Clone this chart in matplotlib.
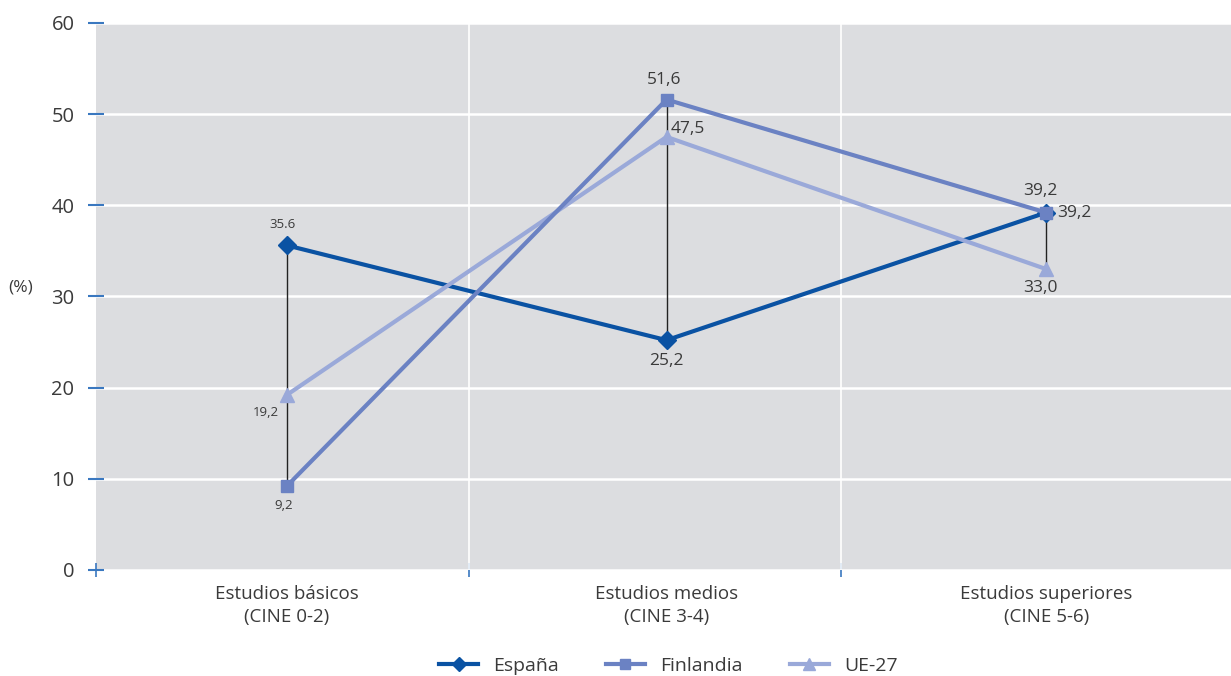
import matplotlib.pyplot as plt

categorias = ['Estudios básicos\n(CINE 0-2)', 'Estudios medios\n(CINE 3-4)', 'Estudios superiores\n(CINE 5-6)']
espana = [35.6, 25.2, 39.2]
finlandia = [9.2, 51.6, 39.2]
ue27 = [19.2, 47.5, 33.0]
etiquetas_espana = ['35.6', '25,2', '39,2']
etiquetas_finlandia = ['9,2', '51,6', '39,2']
etiquetas_ue27 = ['19,2', '47,5', '33,0']

plt.rcParams['font.family'] = ['Open Sans', 'DejaVu Sans']
gris_texto = '#3a3a3a'
azul_ticks = '#3a78c0'

fig = plt.figure(figsize=(12.31, 6.76), dpi=100)
ax = fig.add_axes([0.078, 0.157, 0.922, 0.809])
ax.set_facecolor('#dcdde0')
for s in ax.spines.values():
    s.set_visible(False)

x = list(range(len(categorias)))

# lineas maximo-minimo
for i in x:
    vals = [espana[i], finlandia[i], ue27[i]]
    ax.plot([i, i], [min(vals), max(vals)], color='#222222', lw=1, zorder=3)

ax.plot(x, espana, color='#0a52a3', lw=3, marker='D', ms=9, label='España', zorder=4)
ax.plot(x, ue27, color='#9aa9d9', lw=3, marker='^', ms=10, label='UE-27', zorder=5)
ax.plot(x, finlandia, color='#6b82c3', lw=3, marker='s', ms=9, label='Finlandia', zorder=6)

# etiquetas de datos
ax.annotate(etiquetas_espana[0], (0, espana[0]), xytext=(-3, 10), textcoords='offset points', ha='center', va='bottom', fontsize=9.5, color=gris_texto)
ax.annotate(etiquetas_ue27[0], (0, ue27[0]), xytext=(-15, -8), textcoords='offset points', ha='center', va='top', fontsize=9.5, color=gris_texto)
ax.annotate(etiquetas_finlandia[0], (0, finlandia[0]), xytext=(-2, -9), textcoords='offset points', ha='center', va='top', fontsize=9.5, color=gris_texto)
ax.annotate(etiquetas_finlandia[1], (1, finlandia[1]), xytext=(-2, 8), textcoords='offset points', ha='center', va='bottom', fontsize=12.5, color=gris_texto)
ax.annotate(etiquetas_ue27[1], (1, ue27[1]), xytext=(3, 0), textcoords='offset points', ha='left', va='bottom', fontsize=12.5, color=gris_texto)
ax.annotate(etiquetas_espana[1], (1, espana[1]), xytext=(0, -9), textcoords='offset points', ha='center', va='top', fontsize=12.5, color=gris_texto)
ax.annotate(etiquetas_espana[2], (2, espana[2]), xytext=(-4, 10), textcoords='offset points', ha='center', va='bottom', fontsize=12.5, color=gris_texto)
ax.annotate(etiquetas_finlandia[2], (2, finlandia[2]), xytext=(8, 0), textcoords='offset points', ha='left', va='center', fontsize=12.5, color=gris_texto)
ax.annotate(etiquetas_ue27[2], (2, ue27[2]), xytext=(-4, -8), textcoords='offset points', ha='center', va='top', fontsize=12.5, color=gris_texto)

ax.set_xlim(-0.503, 2.487)
ax.set_ylim(0, 60)
ax.set_yticks(range(0, 61, 10))
ax.grid(axis='y', color='white', lw=1.8)
ax.set_axisbelow(True)

ax.set_xticks([-0.503, 0.48, 1.46])
ax.set_xticklabels([])
ax.set_xticks(x, minor=True)
ax.set_xticklabels(categorias, minor=True, linespacing=1.35)
for xv in [0.48, 1.46]:
    ax.axvline(xv, color='white', lw=1.2, zorder=1)

ax.tick_params(axis='y', direction='inout', length=11, width=1.5, color=azul_ticks, labelsize=14.5, labelcolor=gris_texto, pad=10)
ax.tick_params(axis='x', which='major', direction='inout', length=10, width=1.2, color=azul_ticks)
ax.tick_params(axis='x', which='minor', length=0, labelsize=13.5, labelcolor=gris_texto, pad=11)

fig.text(0.007, 0.574, '(%)', fontsize=12.5, color=gris_texto, ha='left', va='center')

handles, labels = ax.get_legend_handles_labels()
orden = [0, 2, 1]
fig.legend([handles[i] for i in orden], [labels[i] for i in orden], loc='center', bbox_to_anchor=(0.543, 0.015),
           ncol=3, frameon=False, fontsize=14, labelcolor=gris_texto, handlelength=2.0, columnspacing=2.4,
           markerscale=0.8)

plt.savefig('out.png', dpi=100)
plt.close()
